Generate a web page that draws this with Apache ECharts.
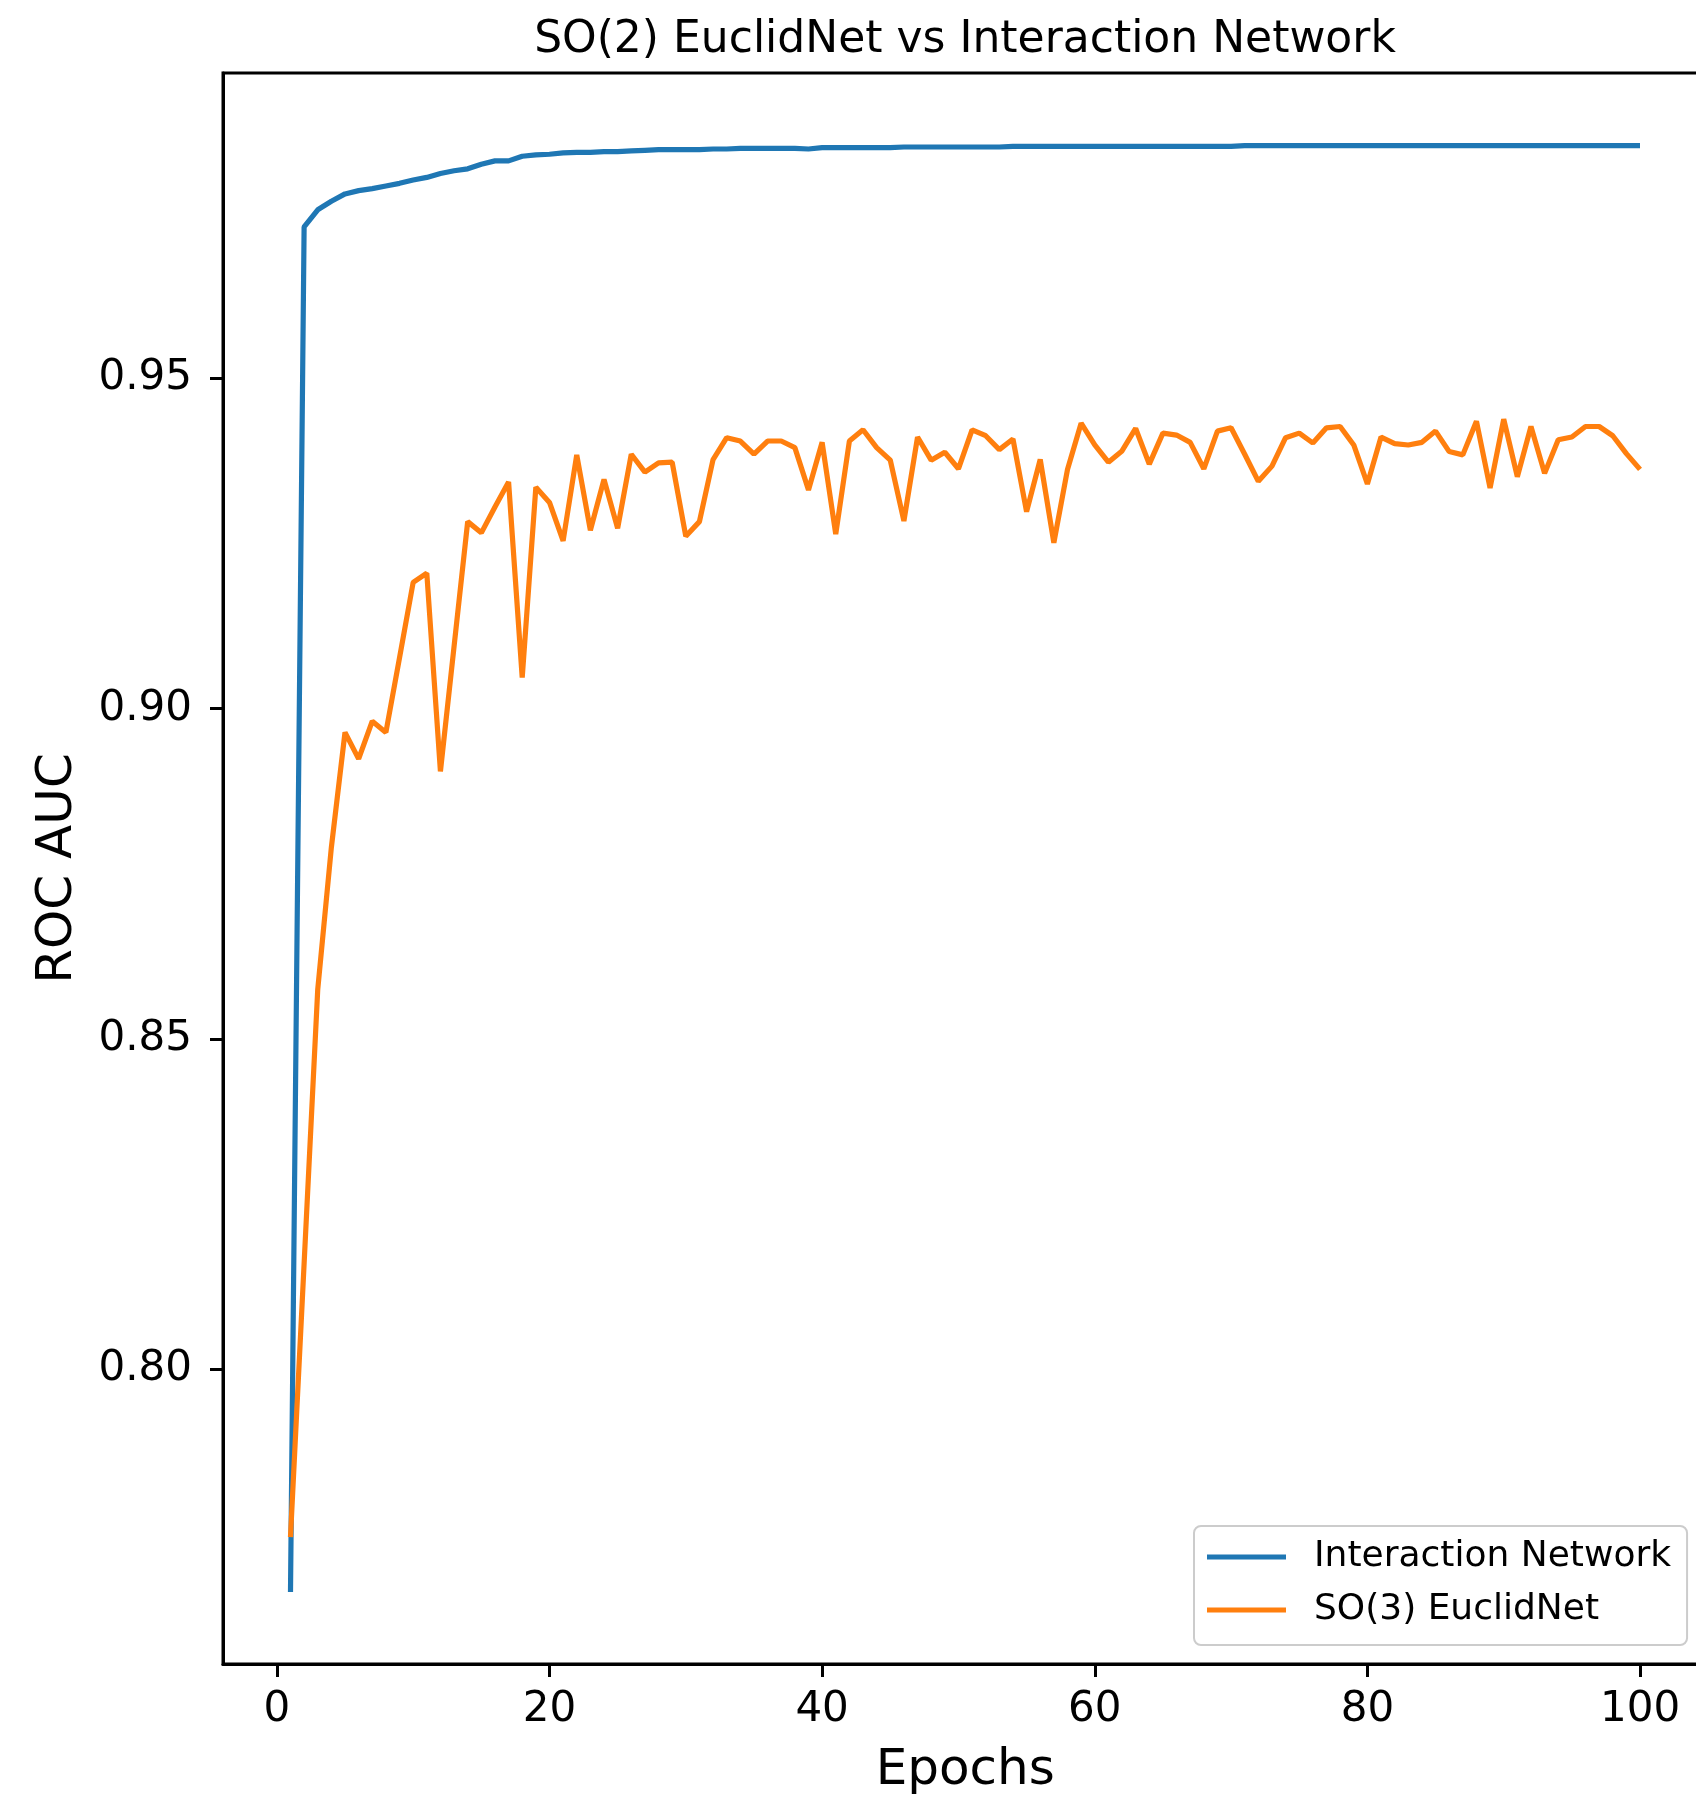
<!DOCTYPE html>
<html>
<head>
<meta charset="utf-8">
<script src="https://cdn.jsdelivr.net/npm/echarts@6/dist/echarts.min.js"></script>
<style>
html,body{margin:0;padding:0;background:#fff;overflow:hidden;width:1696px;height:1797px;}
#chart{width:1730px;height:1797px;}
</style>
</head>
<body>
<div id="chart"></div>
<script>
const titleText = "SO(2) EuclidNet vs Interaction Network";
const xAxisName = "Epochs";
const yAxisName = "ROC AUC";
const seriesNames = ["Interaction Network", "SO(3) EuclidNet"];

const epochs = [1,2,3,4,5,6,7,8,9,10,11,12,13,14,15,16,17,18,19,20,
21,22,23,24,25,26,27,28,29,30,31,32,33,34,35,36,37,38,39,40,
41,42,43,44,45,46,47,48,49,50,51,52,53,54,55,56,57,58,59,60,
61,62,63,64,65,66,67,68,69,70,71,72,73,74,75,76,77,78,79,80,
81,82,83,84,85,86,87,88,89,90,91,92,93,94,95,96,97,98,99,100];

const interactionNetwork = [
0.7663,0.9729,0.9755,0.9768,0.9779,0.9784,0.9787,0.9791,0.9795,0.9800,
0.9804,0.9810,0.9814,0.9817,0.9824,0.9829,0.9829,0.9836,0.9838,0.9839,
0.9841,0.9842,0.9842,0.9843,0.9843,0.9844,0.9845,0.9846,0.9846,0.9846,
0.9846,0.9847,0.9847,0.9848,0.9848,0.9848,0.9848,0.9848,0.9847,0.9849,
0.9849,0.9849,0.9849,0.9849,0.9849,0.9850,0.9850,0.9850,0.9850,0.9850,
0.9850,0.9850,0.9850,0.9851,0.9851,0.9851,0.9851,0.9851,0.9851,0.9851,
0.9851,0.9851,0.9851,0.9851,0.9851,0.9851,0.9851,0.9851,0.9851,0.9851,
0.9852,0.9852,0.9852,0.9852,0.9852,0.9852,0.9852,0.9852,0.9852,0.9852,
0.9852,0.9852,0.9852,0.9852,0.9852,0.9852,0.9852,0.9852,0.9852,0.9852,
0.9852,0.9852,0.9852,0.9852,0.9852,0.9852,0.9852,0.9852,0.9852,0.9852];

const so3EuclidNet = [
0.7746,0.8160,0.8575,0.8790,0.8964,0.8924,0.8981,0.8964,0.9077,0.9191,
0.9205,0.8905,0.9094,0.9283,0.9266,0.9305,0.9343,0.9047,0.9335,0.9312,
0.9254,0.9384,0.9270,0.9347,0.9273,0.9385,0.9358,0.9372,0.9373,0.9261,
0.9283,0.9377,0.9410,0.9405,0.9385,0.9405,0.9405,0.9395,0.9331,0.9403,
0.9264,0.9405,0.9422,0.9395,0.9376,0.9284,0.9411,0.9376,0.9388,0.9363,
0.9422,0.9413,0.9392,0.9408,0.9298,0.9377,0.9251,0.9362,0.9432,0.9399,
0.9373,0.9390,0.9424,0.9370,0.9417,0.9414,0.9403,0.9363,0.9420,0.9425,
0.9385,0.9344,0.9367,0.9410,0.9417,0.9402,0.9425,0.9427,0.9399,0.9340,
0.9411,0.9401,0.9399,0.9403,0.9420,0.9389,0.9384,0.9435,0.9334,0.9438,
0.9351,0.9427,0.9356,0.9407,0.9411,0.9427,0.9427,0.9413,0.9386,0.9362];

const xTicks = [0,20,40,60,80,100];
const yTicks = [0.80,0.85,0.90,0.95];

const colors = ["#1f77b4", "#ff7f0e"];
const FONT = "DejaVu Sans";

const chart = echarts.init(document.getElementById('chart'), null, {renderer:'canvas'});

const option = {
  animation: false,
  backgroundColor: '#ffffff',
  title: {
    text: titleText,
    left: 965,
    textAlign: 'center',
    top: 19,
    padding: 0,
    textStyle: {fontFamily: FONT, fontSize: 44, fontWeight: 'normal', color: '#000'}
  },
  grid: {
    left: 223, top: 73, width: 1484.5, height: 1591,
    containLabel: false,
    outerBoundsMode: 'none',
    show: true, borderColor: '#000', borderWidth: 3, backgroundColor: 'transparent'
  },
  legend: {
    orient: 'vertical',
    left: 1194, top: 1526,
    padding: [11, 16, 15, 13],
    itemGap: 13,
    itemWidth: 79, itemHeight: 5,
    icon: 'rect',
    backgroundColor: 'rgba(255,255,255,0.8)',
    borderColor: '#cccccc', borderWidth: 2, borderRadius: 7,
    textStyle: {fontFamily: FONT, fontSize: 36, color: '#000', lineHeight: 40, padding: [0,0,0,23]},
    data: seriesNames
  },
  xAxis: {
    type: 'value',
    min: -3.95, max: 104.95,
    name: xAxisName,
    nameLocation: 'middle',
    nameGap: 82,
    nameTextStyle: {fontFamily: FONT, fontSize: 50, color: '#000'},
    axisLine: {show: true, onZero: false, lineStyle: {color: '#000', width: 3}},
    splitLine: {show: false},
    axisTick: {show: true, customValues: xTicks, length: 13, lineStyle: {color: '#000', width: 3}},
    axisLabel: {customValues: xTicks, fontFamily: FONT, fontSize: 42, color: '#000', margin: 25}
  },
  yAxis: {
    type: 'value',
    min: 0.7554, max: 0.9962,
    name: yAxisName,
    nameLocation: 'middle',
    nameGap: 140,
    nameTextStyle: {fontFamily: FONT, fontSize: 50, color: '#000'},
    axisLine: {show: true, onZero: false, lineStyle: {color: '#000', width: 3}},
    splitLine: {show: false},
    axisTick: {show: true, customValues: yTicks, length: 13, lineStyle: {color: '#000', width: 3}},
    axisLabel: {customValues: yTicks, fontFamily: FONT, fontSize: 42, color: '#000', margin: 31,
      formatter: v => v.toFixed(2)}
  },
  series: [
    {
      name: seriesNames[0], type: 'line', symbol: 'none',
      lineStyle: {color: colors[0], width: 5.2}, itemStyle: {color: colors[0]},
      data: interactionNetwork.map((v, i) => [epochs[i], v])
    },
    {
      name: seriesNames[1], type: 'line', symbol: 'none',
      lineStyle: {color: colors[1], width: 5.2}, itemStyle: {color: colors[1]},
      data: so3EuclidNet.map((v, i) => [epochs[i], v])
    }
  ]
};
chart.setOption(option);
</script>
</body>
</html>
